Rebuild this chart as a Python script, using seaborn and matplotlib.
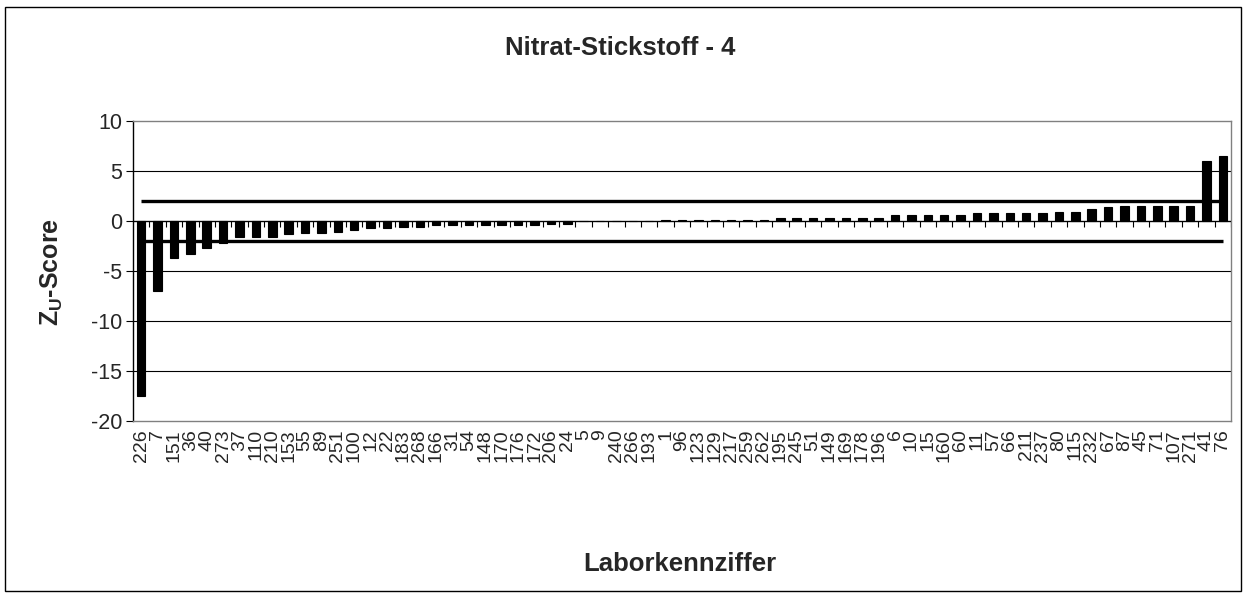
import numpy as np
import pandas as pd
import matplotlib
matplotlib.use("Agg")
import matplotlib.pyplot as plt
from matplotlib.patches import Rectangle
import seaborn as sns

# Laboratory codes, sorted by z-score
labs = ["226", "7", "151", "36", "40", "273", "37", "110", "210", "153",
        "55", "89", "251", "100", "12", "22", "183", "268", "166", "31",
        "54", "148", "170", "176", "172", "206", "24", "5", "9", "240",
        "266", "193", "1", "96", "123", "129", "217", "259", "262", "195",
        "245", "51", "149", "169", "178", "196", "6", "10", "15", "160",
        "60", "11", "57", "66", "211", "237", "80", "115", "232", "67",
        "87", "45", "71", "107", "271", "41", "76"]

zscores = [-17.5, -6.95, -3.7, -3.25, -2.65, -2.2, -1.6, -1.6, -1.6, -1.3,
           -1.2, -1.2, -1.05, -0.85, -0.7, -0.7, -0.55, -0.55, -0.4, -0.4,
           -0.4, -0.4, -0.4, -0.4, -0.4, -0.25, -0.25, 0.0, 0.0, 0.0,
           0.0, 0.0, 0.15, 0.15, 0.15, 0.15, 0.15, 0.15, 0.15, 0.35,
           0.35, 0.35, 0.35, 0.35, 0.35, 0.35, 0.65, 0.65, 0.65, 0.65,
           0.65, 0.85, 0.85, 0.85, 0.85, 0.85, 0.95, 0.95, 1.25, 1.4,
           1.5, 1.5, 1.5, 1.5, 1.5, 6.05, 6.5]

limit = 2.0
yticks = [10, 5, 0, -5, -10, -15, -20]

df = pd.DataFrame({"Labor": labs, "Z": zscores})

sns.set_theme(style="white")
plt.rcParams["font.family"] = ["Liberation Sans", "DejaVu Sans"]
plt.rcParams["mathtext.fontset"] = "custom"
plt.rcParams["mathtext.rm"] = "Liberation Sans"
plt.rcParams["mathtext.bf"] = "Liberation Sans:bold"

W, H = 1247, 598
fig = plt.figure(figsize=(W / 100, H / 100), dpi=100)
ax = fig.add_axes([133 / W, 1 - 421 / H, 1098 / W, 300 / H])

sns.barplot(data=df, x="Labor", y="Z", order=labs, color="black",
            width=0.52, saturation=1, ax=ax, zorder=3,
            edgecolor="black", linewidth=0.8)

n = len(labs)
ax.set_xlim(-0.5, n - 0.5)
ax.set_ylim(min(yticks), max(yticks))

# horizontal gridlines
for yv in yticks:
    if yv in (max(yticks), min(yticks)):
        continue
    ax.axhline(yv, color="black", lw=0.8, zorder=1)

# category axis at zero with tick marks between categories
ax.axhline(0, color="black", lw=0.9, zorder=4)
bounds = np.arange(n + 1) - 0.5
ax.vlines(bounds[1:], -0.55, 0, color="black", lw=0.8, zorder=4)

# +/- 2 limit lines
ax.plot([0, n - 1], [limit, limit], color="black", lw=2.4, zorder=5,
        solid_capstyle="butt")
ax.plot([0, n - 1], [-limit, -limit], color="black", lw=2.4, zorder=5,
        solid_capstyle="butt")

ax.set_yticks(yticks)
ax.set_yticklabels([str(v) for v in yticks], fontsize=15.5)
ax.tick_params(axis="y", which="major", length=5, width=0.8, color="black",
               direction="out", left=True, pad=3)
ax.set_xticks(range(n))
ax.set_xticklabels(labs, rotation=90, fontsize=14)
ax.tick_params(axis="x", length=0, pad=6)

for side in ("top", "right", "bottom"):
    ax.spines[side].set_color("#808080")
    ax.spines[side].set_linewidth(1.0)
ax.spines["left"].set_color("black")
ax.spines["left"].set_linewidth(1.0)

ax.set_xlabel("")
ax.set_ylabel("")
fig.text(680 / W, 1 - 564 / H, "Laborkennziffer", ha="center", va="center",
         fontsize=18.5, fontweight="bold")
fig.text(52 / W, 1 - 272 / H, r"$\mathbf{Z_U}$-Score", ha="center",
         va="center", rotation=90, fontsize=18, fontweight="bold")
fig.text(620 / W, 1 - 48 / H, "Nitrat-Stickstoff - 4", ha="center",
         va="center", fontsize=18.5, fontweight="bold")

# outer chart frame
fig.patches.append(Rectangle((5 / W, 7 / H), 1236 / W, 584 / H,
                             transform=fig.transFigure, fill=False,
                             edgecolor="black", lw=1.0))

fig.savefig("out.png", dpi=100, facecolor="white")
